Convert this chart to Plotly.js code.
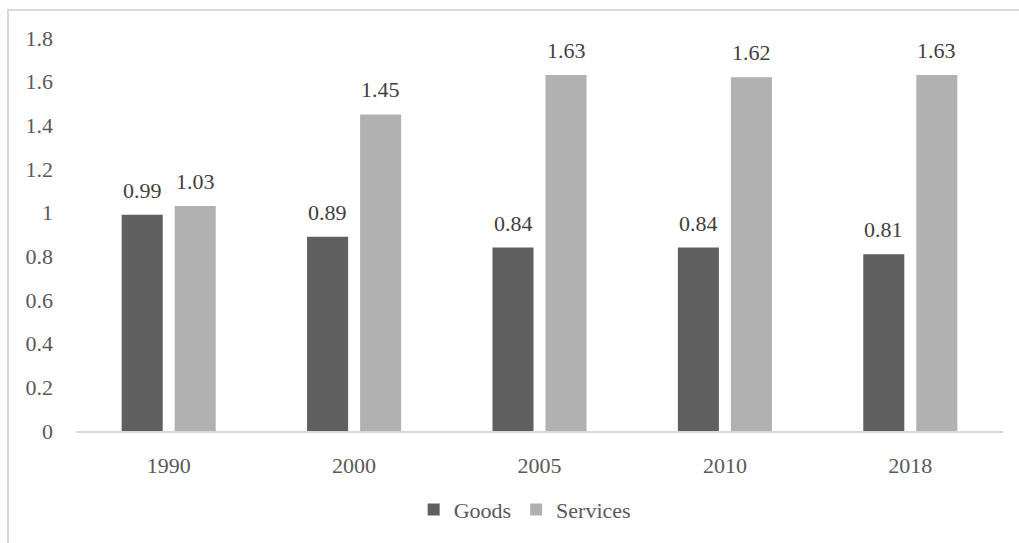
<!DOCTYPE html>
<html>
<head>
<meta charset="utf-8">
<script src="https://cdn.plot.ly/plotly-3.0.1.min.js"></script>
<style>
  html, body { margin: 0; padding: 0; background: #fff; }
  #wrap { position: relative; width: 1019px; height: 543px; overflow: hidden; }
  #chart { position: absolute; left: 0; top: 0; width: 1019px; height: 543px; }
  #frame { position: absolute; left: 7px; top: 9px; width: 1100px; height: 600px;
           border-left: 2px solid #d9d9d9; border-top: 2px solid #d9d9d9; pointer-events: none; }
</style>
</head>
<body>
<div id="wrap">
  <div id="chart"></div>
  <div id="frame"></div>
</div>
<script>
// Goods vs services ratio by year
const years = ['1990', '2000', '2005', '2010', '2018'];
const goods = [0.99, 0.89, 0.84, 0.84, 0.81];
const services = [1.03, 1.45, 1.63, 1.62, 1.63];
const yTicks = [0, 0.2, 0.4, 0.6, 0.8, 1, 1.2, 1.4, 1.6, 1.8];

const FONT = '"Liberation Serif", "Times New Roman", serif';
const GOODS_COLOR = '#5f5f5f';
const SERV_COLOR = '#b1b1b1';

const traces = [
  { type: 'bar', name: 'Goods', x: years, y: goods,
    marker: { color: GOODS_COLOR }, hoverinfo: 'skip' },
  { type: 'bar', name: 'Services', x: years, y: services,
    marker: { color: SERV_COLOR }, hoverinfo: 'skip' }
];

// value labels above each bar (x given as category index)
const annotations = [];
const half = 26.5;
years.forEach((yr, i) => {
  [[goods, -half], [services, half]].forEach(([arr, dx]) => {
    annotations.push({
      x: i, y: arr[i], xref: 'x', yref: 'y',
      text: String(arr[i]), showarrow: false,
      xanchor: 'center', yanchor: 'bottom', xshift: dx, yshift: 10,
      font: { family: FONT, size: 22, color: '#404040' }
    });
  });
});

const layout = {
  width: 1019, height: 543,
  margin: { l: 76, r: 16, t: 38, b: 109 },
  paper_bgcolor: 'rgba(0,0,0,0)', plot_bgcolor: '#fff',
  barmode: 'group', bargap: 0.428, bargroupgap: 0.226,
  showlegend: true,
  legend: {
    orientation: 'h', x: 0.484, xanchor: 'center', y: -0.2, yanchor: 'middle',
    font: { family: FONT, size: 22, color: '#595959' },
    itemwidth: 30, traceorder: 'normal'
  },
  xaxis: {
    type: 'category', categoryorder: 'array', categoryarray: years,
    range: [-0.5, years.length - 0.5],
    showgrid: false, zeroline: false,
    showline: true, linecolor: '#d9d9d9', linewidth: 2,
    ticks: '', ticklabelstandoff: 14,
    tickfont: { family: FONT, size: 22, color: '#595959' }
  },
  yaxis: {
    range: [0, 1.8], tickvals: yTicks, ticktext: yTicks.map(String),
    showgrid: false, zeroline: false, showline: false,
    ticks: '', ticklabelstandoff: 22,
    tickfont: { family: FONT, size: 22, color: '#595959' }
  },
  annotations: annotations
};

Plotly.newPlot('chart', traces, layout, { staticPlot: true, displayModeBar: false });
</script>
</body>
</html>
